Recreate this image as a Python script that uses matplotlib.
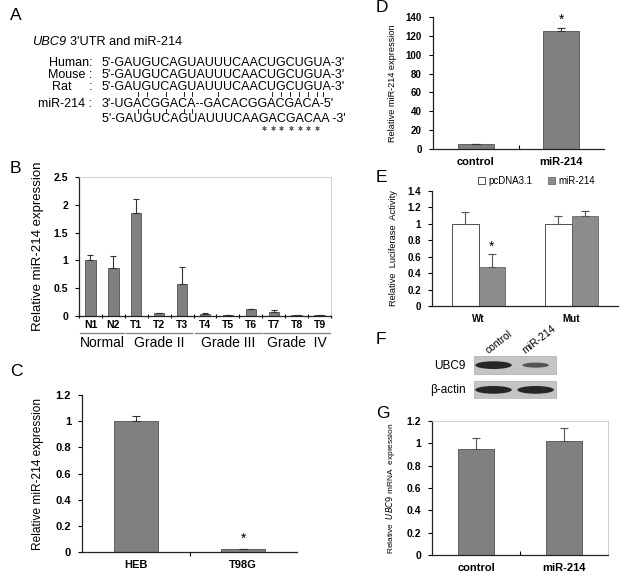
import matplotlib
matplotlib.use("Agg")
import matplotlib.pyplot as plt
from matplotlib.patches import Ellipse, Rectangle
from matplotlib.lines import Line2D
import numpy as np

plt.rcParams['font.family'] = ['Liberation Sans', 'DejaVu Sans']

# ---------------- data ----------------
seq_gene = "UBC9"
seq_header = "3'UTR and miR-214"
seq_names = ["Human:", "Mouse :", "Rat     :", "miR-214 :", ""]
seq_lines = ["5'-GAUGUCAGUAUUUCAACUGCUGUA-3'",
             "5'-GAUGUCAGUAUUUCAACUGCUGUA-3'",
             "5'-GAUGUCAGUAUUUCAACUGCUGUA-3'",
             "3'-UGACGGACA--GACACGGACGACA-5'",
             "5'-GAUGUCAGUAUUUCAAGACGACAA -3'"]
upper_pair_idx = [5, 6, 8, 10, 11, 15, 21, 22, 23, 24, 25, 26, 27]
lower_pair_idx = [5, 6, 8, 10, 11]
star_idx = [19, 20, 21, 22, 23, 24, 25]

b_labels = ["N1", "N2", "T1", "T2", "T3", "T4", "T5", "T6", "T7", "T8", "T9"]
b_values = [1.0, 0.87, 1.86, 0.05, 0.58, 0.04, 0.01, 0.12, 0.08, 0.02, 0.02]
b_errors = [0.10, 0.21, 0.25, 0.01, 0.30, 0.02, 0.01, 0.01, 0.03, 0.005, 0.005]
b_groups = ["Normal", "Grade II", "Grade III", "Grade  IV"]
b_group_sizes = [2, 3, 3, 3]

c_labels = ["HEB", "T98G"]
c_values = [1.0, 0.02]
c_errors = [0.04, 0.005]

d_labels = ["control", "miR-214"]
d_values = [5.0, 125.5]
d_errors = [0.5, 3.0]

e_groups = ["Wt", "Mut"]
e_series = ["pcDNA3.1", "miR-214"]
e_pcdna = [1.0, 1.0]
e_pcdna_err = [0.14, 0.10]
e_mir = [0.48, 1.10]
e_mir_err = [0.15, 0.06]

f_lanes = ["control", "miR-214"]
f_rows = ["UBC9", "β-actin"]
f_intensity = [[1.0, 0.55], [1.0, 1.0]]

g_labels = ["control", "miR-214"]
g_values = [0.95, 1.02]
g_errors = [0.10, 0.12]

# ---------------- figure ----------------
W, H = 628, 576
fig = plt.figure(figsize=(W / 100, H / 100), dpi=100)
BAR = '#808080'
EDGE = '#3a3a3a'
renderer = fig.canvas.get_renderer()


def ax_px(l, t, r, b):
    return fig.add_axes([l / W, 1 - b / H, (r - l) / W, (b - t) / H])


def ftext(x, y, s, **kw):
    return fig.text(x / W, 1 - y / H, s, **kw)


def fline(xs, ys, **kw):
    fig.add_artist(Line2D([x / W for x in xs], [1 - y / H for y in ys],
                          transform=fig.transFigure, **kw))


def style_axes(ax, frame=False, ticksize=7):
    for sp in ['top', 'right']:
        if frame:
            ax.spines[sp].set_color('#c8c8c8')
            ax.spines[sp].set_linewidth(0.6)
        else:
            ax.spines[sp].set_visible(False)
    for sp in ['left', 'bottom']:
        ax.spines[sp].set_linewidth(0.9)
        ax.spines[sp].set_color('#222222')
    ax.tick_params(axis='y', length=3, width=0.8, labelsize=ticksize, pad=5)
    ax.tick_params(axis='x', length=0, labelsize=ticksize, pad=6)
    for t in ax.get_yticklabels() + ax.get_xticklabels():
        t.set_fontweight('bold')


def fmt(v):
    return ('%g' % v)


def text_width(s, fs, **kw):
    if not s:
        return 0
    t = fig.text(0, 0, s, fontsize=fs, **kw)
    w = t.get_window_extent(renderer).width
    t.remove()
    return w


# panel letters
for letter, (x, y) in {"A": (10, 16), "B": (10, 168), "C": (10, 372),
                       "D": (376, 8), "E": (376, 178), "F": (376, 340),
                       "G": (376, 414)}.items():
    ftext(x, y, letter, fontsize=12.5, va='center', ha='left')

# ---------------- A ----------------
HFS = 9.2
ftext(32, 42, seq_gene, fontsize=HFS, style='italic', va='center')
gw = text_width(seq_gene + " ", HFS, style='italic')
ftext(32 + gw, 42, seq_header, fontsize=HFS, va='center')
row_y = [62, 74, 86, 103, 118]
SEQ_X = 102
SEQ_FS = 9.0
for ny, nm, sq in zip(row_y, seq_names, seq_lines):
    if nm:
        ftext(92, ny + 4.3, nm, fontsize=SEQ_FS, va='baseline', ha='right')
    ftext(SEQ_X, ny + 4.3, sq, fontsize=SEQ_FS, va='baseline')


def char_center(s, i):
    w1 = text_width(s[:i], SEQ_FS)
    w2 = text_width(s[:i + 1], SEQ_FS)
    return SEQ_X + (w1 + w2) / 2


for i in upper_pair_idx:
    x = char_center(seq_lines[3], i)
    fline([x, x], [91.6, 95.6], color='#222222', lw=0.7)
for i in lower_pair_idx:
    x = char_center(seq_lines[3], i)
    fline([x, x], [109.0, 112.8], color='#222222', lw=0.7)
for i in star_idx:
    x = char_center(seq_lines[4], i)
    fline([x], [128], marker=(6, 2, 0), markersize=3, color='#666666', lw=0,
          markeredgewidth=0.6)

# ---------------- B ----------------
axB = ax_px(79, 177, 331, 316)
xb = np.arange(len(b_values))
axB.bar(xb, b_values, width=0.45, color=BAR, edgecolor=EDGE, linewidth=0.5)
axB.errorbar(xb, b_values, yerr=[np.zeros(len(b_errors)), b_errors], fmt='none',
             ecolor='#333333', elinewidth=0.8, capsize=2.5, capthick=0.8)
axB.set_xlim(-0.5, len(b_values) - 0.5)
axB.set_ylim(0, 2.5)
yt = [0, 0.5, 1, 1.5, 2, 2.5]
axB.set_yticks(yt)
axB.set_yticklabels([fmt(v) for v in yt])
axB.set_xticks(xb)
axB.set_xticklabels(b_labels)
axB.set_xticks(np.arange(len(b_values) + 1) - 0.5, minor=True)
axB.tick_params(axis='x', which='minor', length=3, width=0.8, direction='inout')
style_axes(axB, frame=True, ticksize=7.5)
axB.tick_params(axis='x', pad=3)
axB.set_ylabel("Relative miR-214 expression", fontsize=9.5, labelpad=7)
start = 0
for g, n in zip(b_groups, b_group_sizes):
    x0 = start - 0.45
    x1 = start + n - 0.55
    axB.plot([x0, x1], [-0.125, -0.125], transform=axB.get_xaxis_transform(),
             color='#888888', lw=1.0, clip_on=False)
    axB.text((x0 + x1) / 2, -0.195, g, transform=axB.get_xaxis_transform(),
             ha='center', va='center', fontsize=10)
    start += n

# ---------------- C ----------------
axC = ax_px(82, 395, 297, 552)
xc = np.arange(len(c_values))
axC.bar(xc, c_values, width=0.41, color=BAR, edgecolor=EDGE, linewidth=0.5)
axC.errorbar(xc, c_values, yerr=[[0, 0], c_errors], fmt='none', ecolor='#333333',
             elinewidth=0.8, capsize=3, capthick=0.8)
axC.set_xlim(-0.5, 1.5)
axC.set_ylim(0, 1.2)
yt = [0, 0.2, 0.4, 0.6, 0.8, 1, 1.2]
axC.set_yticks(yt)
axC.set_yticklabels([fmt(v) for v in yt])
axC.set_xticks(xc)
axC.set_xticklabels(c_labels)
axC.set_xticks([0.5], minor=True)
axC.tick_params(axis='x', which='minor', length=3, width=0.8, direction='out')
style_axes(axC, ticksize=8)
axC.set_ylabel("Relative miR-214 expression", fontsize=8.6, labelpad=8)
axC.text(1, c_values[1] + c_errors[1] + 0.02, "*", ha='center', va='bottom', fontsize=10)

# ---------------- D ----------------
axD = ax_px(433, 17, 604, 149)
xd = np.arange(len(d_values))
axD.bar(xd, d_values, width=0.42, color=BAR, edgecolor=EDGE, linewidth=0.5)
axD.errorbar(xd, d_values, yerr=[[0, 0], d_errors], fmt='none', ecolor='#333333',
             elinewidth=0.8, capsize=3, capthick=0.8)
axD.set_xlim(-0.5, 1.5)
axD.set_ylim(0, 140)
yt = list(range(0, 141, 20))
axD.set_yticks(yt)
axD.set_yticklabels([str(v) for v in yt])
axD.set_xticks(xd)
axD.set_xticklabels(d_labels)
axD.set_xticks([0.5], minor=True)
axD.tick_params(axis='x', which='minor', length=3, width=0.8, direction='in')
style_axes(axD, ticksize=7)
axD.tick_params(axis='x', labelsize=8)
for t in axD.get_xticklabels():
    t.set_fontweight('bold')
axD.set_ylabel("Relative miR-214 expression", fontsize=6.6, labelpad=6)
axD.text(1, d_values[1] + d_errors[1] + 1, "*", ha='center', va='bottom', fontsize=10)

# ---------------- E ----------------
axE = ax_px(432, 191, 618, 306)
xe = np.arange(len(e_groups))
bw = 0.285
axE.bar(xe - bw / 2, e_pcdna, width=bw, color='white', edgecolor='#333333', linewidth=0.6,
        label=e_series[0])
axE.bar(xe + bw / 2, e_mir, width=bw, color='#8c8c8c', edgecolor='#555555', linewidth=0.5,
        label=e_series[1])
axE.errorbar(xe - bw / 2, e_pcdna, yerr=[[0, 0], e_pcdna_err], fmt='none', ecolor='#555555',
             elinewidth=0.8, capsize=3, capthick=0.8)
axE.errorbar(xe + bw / 2, e_mir, yerr=[[0, 0], e_mir_err], fmt='none', ecolor='#555555',
             elinewidth=0.8, capsize=3, capthick=0.8)
axE.set_xlim(-0.5, 1.5)
axE.set_ylim(0, 1.4)
yt = [0, 0.2, 0.4, 0.6, 0.8, 1, 1.2, 1.4]
axE.set_yticks(yt)
axE.set_yticklabels([fmt(v) for v in yt])
axE.set_xticks(xe)
axE.set_xticklabels(e_groups)
style_axes(axE, ticksize=7)
axE.set_ylabel("Relative  Luciferase  Activity", fontsize=6.7, labelpad=7)
axE.text(0 + bw / 2, e_mir[0] + e_mir_err[0] + 0.01, "*", ha='center', va='bottom', fontsize=10)
leg = axE.legend(loc='lower left', bbox_to_anchor=(0.22, 1.0), ncol=2, frameon=False,
                 fontsize=7, handlelength=0.7, handleheight=0.7, columnspacing=1.6,
                 handletextpad=0.4, borderaxespad=0.1)

# ---------------- F (western blot) ----------------
axF = ax_px(472, 356, 558, 399)
axF.set_xlim(0, 2)
axF.set_ylim(2, 0)
axF.axis('off')
box_rows = [(0.0, 0.85), (1.15, 2.0)]
for r, (y0, y1) in enumerate(box_rows):
    axF.add_patch(Rectangle((0.05, y0), 1.9, y1 - y0, facecolor='#c4c4c4',
                            edgecolor='#aaaaaa', lw=0.5))
    for lane in range(len(f_lanes)):
        inten = f_intensity[r][lane]
        cx = 0.5 + lane * 0.98
        h = 0.28 * inten + 0.08
        w = 0.85 if inten > 0.9 else 0.62
        shade = 0.15 + (1 - inten) * 0.4
        axF.add_patch(Ellipse((cx, (y0 + y1) / 2), w, h, facecolor=str(shade),
                              edgecolor='none'))
ftext(466, 366, f_rows[0], fontsize=8.5, ha='right', va='center')
ftext(466, 390, f_rows[1], fontsize=8.5, ha='right', va='center')
ftext(490, 356, f_lanes[0], fontsize=7.5, rotation=38, ha='left', va='bottom',
      rotation_mode='anchor')
ftext(527, 356, f_lanes[1], fontsize=7.5, rotation=38, ha='left', va='bottom',
      rotation_mode='anchor')

# ---------------- G ----------------
axG = ax_px(432, 421, 608, 555)
xg = np.arange(len(g_values))
axG.bar(xg, g_values, width=0.40, color=BAR, edgecolor=EDGE, linewidth=0.5)
axG.errorbar(xg, g_values, yerr=[[0, 0], g_errors], fmt='none', ecolor='#555555',
             elinewidth=0.8, capsize=3, capthick=0.8)
axG.set_xlim(-0.5, 1.5)
axG.set_ylim(0, 1.2)
yt = [0, 0.2, 0.4, 0.6, 0.8, 1, 1.2]
axG.set_yticks(yt)
axG.set_yticklabels([fmt(v) for v in yt])
axG.set_xticks(xg)
axG.set_xticklabels(g_labels)
axG.set_xticks([0.5], minor=True)
axG.tick_params(axis='x', which='minor', length=3, width=0.8, direction='in')
style_axes(axG, frame=True, ticksize=7.5)
axG.tick_params(axis='x', labelsize=8)
for t in axG.get_xticklabels():
    t.set_fontweight('bold')
axG.set_ylabel(r"Relative  $\it{UBC9}$ mRNA  expression", fontsize=6.0, labelpad=7)

fig.savefig("out.png", dpi=100)
